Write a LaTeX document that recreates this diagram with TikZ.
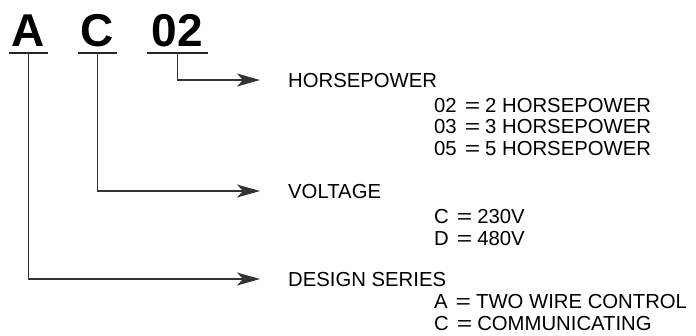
\documentclass[tikz,border=0pt]{standalone}
\usepackage{fontspec}
\setmainfont{Liberation Sans}
\usetikzlibrary{arrows.meta}
\newcommand{\codeeq}{\hspace{8pt}\scalebox{1.3}[1]{=}\hspace{5pt}}

\begin{document}
\begin{tikzpicture}[x=1pt,y=-1pt,
    code/.style={anchor=base,inner sep=0pt,font=\fontsize{46}{50}\selectfont\bfseries},
    head/.style={anchor=base west,inner sep=0pt,font=\fontsize{20.3}{24}\selectfont},
    item/.style={anchor=base west,inner sep=0pt,font=\fontsize{20.3}{24}\selectfont},
    uline/.style={line width=1.4pt,black!85},
    lead/.style={line width=1.4pt,black!80,-{Stealth[length=23pt,width=13pt,inset=6pt]},shorten >=28pt}]
  \useasboundingbox (0,0) rectangle (696,335);
  % model code
  \node[code,minimum width=39pt] (codeA) at (28.5,46) {A};
  \node[code,minimum width=39pt] (codeC) at (97.5,46) {C};
  \node[code,minimum width=60pt] (codeHP) at (177.5,46) {02};
  \foreach \c in {codeA,codeC,codeHP}
    \draw[uline] ([yshift=-7pt]\c.base west) -- ([yshift=-7pt]\c.base east);% underline
  \coordinate (tapA) at ([yshift=-7pt]codeA.base);
  \coordinate (tapC) at ([yshift=-7pt]codeC.base);
  \coordinate (tapHP) at ([yshift=-7pt]codeHP.base);
  % headings
  \node[head] (hp) at (288,87) {HORSEPOWER};
  \node[head] (volt) at (288,198) {VOLTAGE};
  \node[head] (design) at (288,286) {DESIGN SERIES};
  % values
  \node[item] (hp2) at (434,112) {02\codeeq 2 HORSEPOWER};
  \node[item] (hp3) at (434,133.5) {03\codeeq 3 HORSEPOWER};
  \node[item] (hp5) at (434,155) {05\codeeq 5 HORSEPOWER};
  \node[item] (voltC) at (434,223) {C\codeeq 230V};
  \node[item] (voltD) at (434,245) {D\codeeq 480V};
  \node[item] (desA) at (434,308) {A\codeeq TWO WIRE CONTROL};
  \node[item] (desC) at (434,330.5) {C\codeeq COMMUNICATING};
  % leaders
  \draw[lead] (tapHP) |- (hp.west);
  \draw[lead] (tapC) |- (volt.west);
  \draw[lead] (tapA) |- (design.west);
\end{tikzpicture}
\end{document}
